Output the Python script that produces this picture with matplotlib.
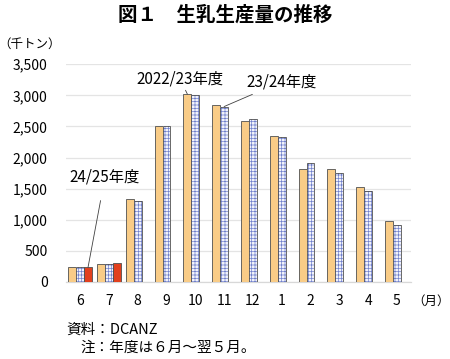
import numpy as np
import matplotlib
matplotlib.use("Agg")
import matplotlib.pyplot as plt

plt.rcParams['font.family'] = ['Noto Sans CJK JP', 'DejaVu Sans']
plt.rcParams['hatch.linewidth'] = 0.5

# ----------------- データ -----------------
months = ['6', '7', '8', '9', '10', '11', '12', '1', '2', '3', '4', '5']
fy2022 = [235, 295, 1335, 2510, 3020, 2840, 2590, 2350, 1815, 1815, 1525, 980]
fy2023 = [235, 295, 1300, 2500, 3010, 2820, 2615, 2330, 1915, 1755, 1460, 920]
fy2024 = [235, 310]
yticks = [0, 500, 1000, 1500, 2000, 2500, 3000, 3500]

c_yellow = '#F9CC87'
c_red = '#E2401E'
c_edge = '#505050'
c_grid = '#E4E4E4'
H = 359  # 図の高さ(px)

fig = plt.figure(figsize=(4.5, 3.59), dpi=100)
ax = fig.add_axes([0.146, 0.2145, 0.768, 0.6065])

x = np.arange(len(months))
w = 0.275

ax.bar(x - w, fy2022, w, color=c_yellow, edgecolor=c_edge, linewidth=0.6, zorder=3)
# 格子模様の棒：先にハッチ、次に枠線
ax.bar(x, fy2023, w, color='#F2F3FB', edgecolor='#7080CC', hatch='+++++',
       linewidth=0, zorder=3)
ax.bar(x, fy2023, w, color='none', edgecolor=c_edge, linewidth=0.6, zorder=4)
ax.bar(x[:len(fy2024)] + w, fy2024, w, color=c_red, edgecolor=c_edge,
       linewidth=0.6, zorder=3)

ax.set_xlim(-0.5, len(months) - 0.5)
ax.set_ylim(0, 3500)
ax.set_yticks(yticks)
ax.set_yticklabels([f'{v:,}' for v in yticks])
ax.set_xticks(x)
ax.set_xticklabels(months)
ax.tick_params(axis='y', length=0, pad=13, labelsize=10)
ax.tick_params(axis='x', length=0, pad=9, labelsize=10)
ax.grid(axis='y', color=c_grid, linewidth=0.9, zorder=0)
for s in ['top', 'right', 'left']:
    ax.spines[s].set_visible(False)
ax.spines['bottom'].set_color('#D8D8D8')
ax.spines['bottom'].set_linewidth(0.9)

# ----------------- 注記 -----------------
line = dict(arrowstyle='-', color='#404040', lw=0.6, shrinkB=0)
ax.annotate('2022/23年度', xy=(4 - w, fy2022[4]), xytext=(180, H - 79),
            textcoords='figure pixels', fontsize=11, ha='center', va='center',
            arrowprops=dict(line, shrinkA=8))
ax.annotate('23/24年度', xy=(5, fy2023[5]), xytext=(246, H - 82),
            textcoords='figure pixels', fontsize=11, ha='left', va='center',
            arrowprops=dict(line, shrinkA=2))
ax.annotate('24/25年度', xy=(0 + w, fy2024[0]), xytext=(105, H - 177),
            textcoords='figure pixels', fontsize=11, ha='center', va='center',
            arrowprops=dict(line, shrinkA=9))

fig.text(0.5, 1 - 15 / H, '図１　生乳生産量の推移', ha='center', va='center',
         fontsize=14, fontweight='bold')
fig.text(30 / 450, 1 - 44 / H, '（千トン）', ha='center', va='center', fontsize=9)
fig.text(431 / 450, 1 - 301 / H, '（月）', ha='center', va='center', fontsize=9)
fig.text(66 / 450, 1 - 330 / H, '資料：DCANZ', ha='left', va='center', fontsize=10.5)
fig.text(80 / 450, 1 - 348 / H, '注：年度は６月～翌５月。', ha='left', va='center',
         fontsize=10.5)

fig.savefig('out.png', dpi=100, facecolor='white')
